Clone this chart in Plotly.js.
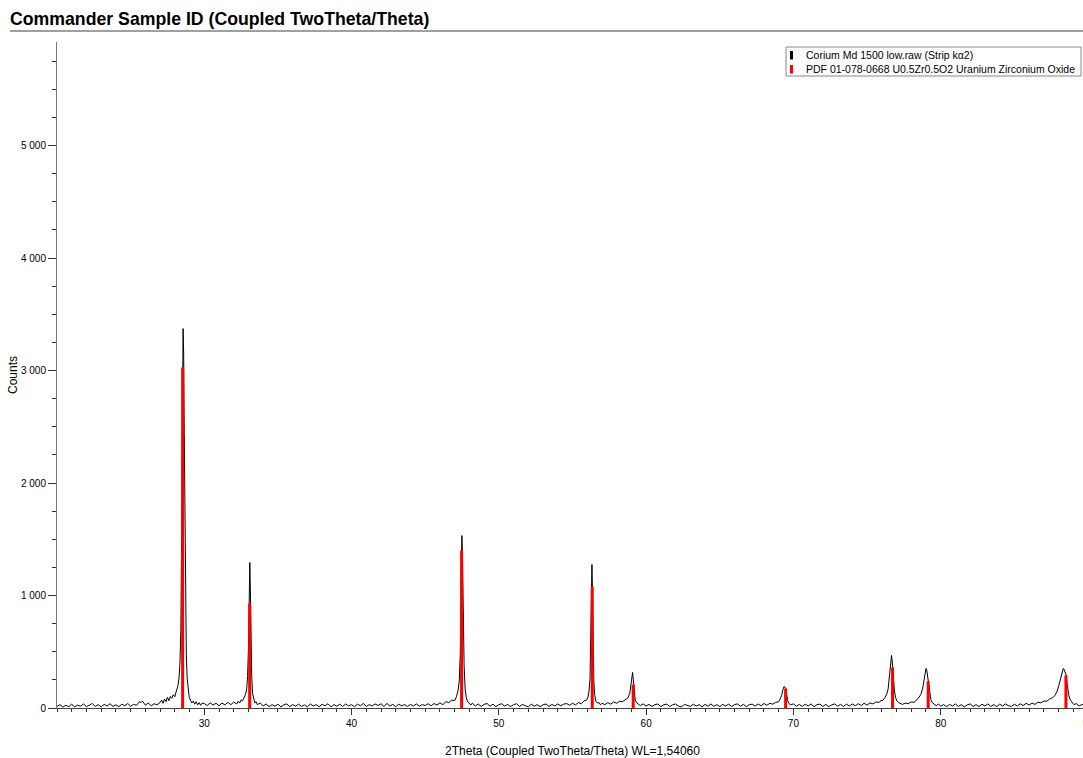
<!DOCTYPE html>
<html>
<head>
<meta charset="utf-8">
<script src="https://cdn.plot.ly/plotly-3.0.1.min.js"></script>
<style>
html,body{margin:0;padding:0;overflow:hidden;background:#fff;}
#chart{width:1088px;height:758px;}
</style>
</head>
<body>
<div id="chart"></div>
<script>
// ---- Data ----
const chartTitle = "Commander Sample ID (Coupled TwoTheta/Theta)";
const xTitle = "2Theta (Coupled TwoTheta/Theta) WL=1,54060";
const yTitle = "Counts";
const legendNames = ["Corium Md 1500 low.raw (Strip k\u03b12)", "PDF 01-078-0668 U0.5Zr0.5O2 Uranium Zirconium Oxide"];
const xTickVals = [30, 40, 50, 60, 70, 80, 90];

// measured scan (2theta, counts)
const twoTheta = [
20.0,20.2,20.4,20.6,20.8,21.0,21.2,21.4,21.6,21.8,
22.0,22.2,22.4,22.6,22.8,23.0,23.2,23.4,23.6,23.8,
24.0,24.2,24.4,24.6,24.8,25.0,25.2,25.4,25.6,25.7,
25.8,26.0,26.2,26.4,26.6,26.8,27.0,27.1,27.2,27.3,
27.4,27.5,27.6,27.7,27.8,27.9,28.0,28.1,28.2,28.28,
28.35,28.41,28.46,28.51,28.56,28.60,28.64,28.68,28.73,28.78,
28.84,28.91,28.98,29.06,29.15,29.25,29.35,29.45,29.55,29.65,
29.75,29.85,30.0,30.2,30.4,30.6,30.8,31.0,31.2,31.4,
31.6,31.8,32.0,32.2,32.3,32.4,32.5,32.6,32.7,32.8,
32.88,32.94,33.0,33.05,33.09,33.13,33.17,33.22,33.28,33.35,
33.43,33.52,33.6,33.8,34.0,34.2,34.4,34.6,34.8,35.0,
35.2,35.4,35.6,35.8,36.0,36.2,36.4,36.6,36.8,37.0,
37.2,37.4,37.6,37.8,38.0,38.2,38.4,38.6,38.8,39.0,
39.2,39.4,39.6,39.8,40.0,40.2,40.4,40.6,40.8,41.0,
41.2,41.4,41.6,41.8,42.0,42.2,42.4,42.6,42.8,43.0,
43.2,43.4,43.6,43.8,44.0,44.2,44.4,44.6,44.8,45.0,
45.2,45.4,45.6,45.8,46.0,46.2,46.4,46.6,46.8,47.0,
47.12,47.22,47.31,47.38,47.44,47.49,47.53,47.58,47.64,47.71,
47.79,47.89,48.0,48.1,48.2,48.4,48.6,48.8,49.0,49.2,
49.4,49.6,49.8,50.0,50.2,50.4,50.6,50.8,51.0,51.2,
51.4,51.6,51.8,52.0,52.2,52.4,52.6,52.8,53.0,53.2,
53.4,53.6,53.8,54.0,54.2,54.4,54.6,54.8,55.0,55.2,
55.4,55.6,55.8,55.95,56.05,56.12,56.19,56.24,56.28,56.32,
56.36,56.40,56.45,56.51,56.59,56.69,56.8,56.9,57.0,57.2,
57.4,57.6,57.8,58.0,58.2,58.4,58.6,58.76,58.89,58.97,
59.03,59.08,59.13,59.18,59.25,59.33,59.45,59.6,59.8,60.0,
60.2,60.4,60.6,60.8,61.0,61.2,61.4,61.6,61.8,62.0,
62.2,62.4,62.6,62.8,63.0,63.2,63.4,63.6,63.8,64.0,
64.2,64.4,64.6,64.8,65.0,65.2,65.4,65.6,65.8,66.0,
66.2,66.4,66.6,66.8,67.0,67.2,67.4,67.6,67.8,68.0,
68.2,68.4,68.6,68.8,69.0,69.1,69.19,69.28,69.36,69.42,
69.48,69.54,69.61,69.7,69.8,70.0,70.2,70.4,70.6,70.8,
71.0,71.2,71.4,71.6,71.8,72.0,72.2,72.4,72.6,72.8,
73.0,73.2,73.4,73.6,73.8,74.0,74.2,74.4,74.6,74.8,
75.0,75.2,75.4,75.6,75.8,75.95,76.08,76.2,76.33,76.43,
76.51,76.58,76.66,76.72,76.78,76.85,76.93,77.03,77.13,77.25,
77.4,77.6,77.8,78.0,78.2,78.35,78.5,78.65,78.77,78.87,
78.95,79.0,79.06,79.12,79.18,79.25,79.33,79.42,79.55,79.7,
79.85,80.0,80.2,80.4,80.6,80.8,81.0,81.2,81.4,81.6,
81.8,82.0,82.2,82.4,82.6,82.8,83.0,83.2,83.4,83.6,
83.8,84.0,84.2,84.4,84.6,84.8,85.0,85.2,85.4,85.6,
85.8,86.0,86.2,86.4,86.6,86.8,87.0,87.2,87.4,87.6,
87.75,87.9,88.02,88.12,88.2,88.27,88.32,88.38,88.44,88.5,
88.56,88.62,88.7,88.8,88.92,89.05,89.2,89.4,89.6,89.8,
90.0
];
const counts = [
14,30,8,24,12,34,10,26,16,36,
12,28,40,14,30,10,32,18,38,14,
28,12,34,20,40,16,32,24,56,48,
62,26,44,20,38,28,50,70,42,80,
56,96,64,104,86,118,100,150,190,260,
400,700,1350,2350,3373,3150,2450,1600,900,480,
260,150,95,70,44,62,34,56,28,48,
24,44,40,22,46,26,42,20,44,28,
50,30,52,36,60,44,72,64,92,120,
170,280,540,920,1293,1050,600,280,130,70,
45,56,30,44,18,36,12,30,16,34,
10,28,36,12,30,16,34,14,28,10,
36,18,30,12,32,20,38,10,30,16,
34,14,36,18,30,12,34,20,40,14,
30,18,36,22,38,14,40,18,32,12,
34,20,30,14,32,18,36,16,30,22,
38,20,40,26,46,30,56,48,70,66,
100,150,240,480,900,1533,1350,800,380,170,
90,55,40,26,44,18,36,14,32,40,
16,34,12,30,38,16,32,12,30,38,
14,32,20,10,34,16,30,12,28,36,
14,32,18,36,20,34,40,24,42,28,
48,38,64,70,95,150,260,560,900,1276,
1000,520,230,110,60,44,48,28,42,30,
48,34,54,42,60,56,74,90,130,190,
270,316,250,150,80,50,40,22,36,18,
32,14,30,36,12,30,34,14,28,36,
16,10,32,20,14,34,18,30,10,32,
16,36,14,30,12,32,18,34,14,30,
36,16,32,12,30,34,16,36,20,40,
24,42,34,50,56,80,110,160,191,185,
175,120,65,40,28,36,16,32,14,34,
18,36,12,30,34,14,32,12,28,36,
16,32,14,34,18,36,20,38,22,42,
26,46,36,54,50,66,70,90,120,170,
260,380,467,400,280,160,95,62,48,40,
32,44,38,54,50,72,90,120,170,250,
320,351,330,280,210,130,75,48,34,20,
36,16,30,12,32,18,36,14,30,10,
28,36,14,30,12,34,18,36,14,30,
12,34,18,36,20,14,34,18,38,22,
42,26,44,32,52,46,62,60,80,92,
110,150,200,260,310,340,351,340,320,300,
240,170,110,70,45,30,40,18,32,14,
28
];

// reference pattern PDF 01-078-0668 (stick positions and heights)
const pdfPos = [28.53, 33.08, 47.47, 56.34, 59.12, 69.47, 76.73, 79.15, 88.50];
const pdfInt = [3027, 929, 1400, 1080, 209, 173, 360, 238, 289];

// ---- build traces ----
const stickX = [], stickY = [];
pdfPos.forEach((p, i) => { stickX.push(p, p, null); stickY.push(0, pdfInt[i], null); });

const traces = [
  {x: twoTheta, y: counts, type: 'scatter', mode: 'lines', name: legendNames[0],
   line: {color: '#000000', width: 1}, hoverinfo: 'x+y'},
  {x: stickX, y: stickY, type: 'scatter', mode: 'lines', name: legendNames[1],
   line: {color: '#ff0000', width: 3}, hoverinfo: 'x+y'}
];

// pixel helpers for decoration layout (plot area 57..1088 x 42..708)
const L = 57, R = 1088, T = 42, B = 708;
const px = v => (v - L) / (R - L);
const py = v => (B - v) / (B - T);

const fontFam = '"Liberation Sans", Arial, sans-serif';

const layout = {
  width: 1088, height: 758,
  margin: {l: L, r: 0, t: T, b: 758 - B},
  paper_bgcolor: '#ffffff', plot_bgcolor: '#ffffff',
  showlegend: false,
  separators: ', ',
  font: {family: fontFam, size: 10, color: '#000'},
  title: {text: '<b>' + chartTitle + '</b>', x: 10 / 1088, xanchor: 'left', xref: 'container',
          y: 1 - 19 / 758, yanchor: 'middle', yref: 'container',
          font: {family: fontFam, size: 17.7, color: '#000'}},
  xaxis: {
    range: [20, 90], tickmode: 'array', tickvals: xTickVals, showgrid: false, zeroline: false,
    showline: true, linecolor: '#444', linewidth: 1,
    ticks: 'outside', ticklen: 6, tickwidth: 1, tickcolor: '#333',
    minor: {dtick: 1, tick0: 0, ticks: 'outside', ticklen: 3, tickcolor: '#333', showgrid: false},
    tickfont: {family: fontFam, size: 10, color: '#000'},
    ticklabeloverflow: 'allow',
    title: {text: xTitle, font: {family: fontFam, size: 12, color: '#000'}, standoff: 22}
  },
  yaxis: {
    range: [0, 5920], dtick: 1000, tick0: 0, showgrid: false, zeroline: false,
    showline: true, linecolor: '#777', linewidth: 1,
    ticks: 'outside', ticklen: 8, tickwidth: 1, tickcolor: '#333',
    minor: {dtick: 250, ticks: 'outside', ticklen: 4, tickcolor: '#333', showgrid: false},
    separatethousands: true,
    tickfont: {family: fontFam, size: 10, color: '#000'},
    title: {text: yTitle, font: {family: fontFam, size: 12, color: '#000'}, standoff: 0}
  },
  shapes: [
    // rule under the title
    {type: 'line', xref: 'paper', yref: 'paper', x0: px(10), x1: px(1088), y0: py(31), y1: py(31),
     line: {color: '#7f7f7f', width: 1.5}},
    // legend box
    {type: 'rect', xref: 'paper', yref: 'paper', x0: px(786), x1: px(1081), y0: py(76), y1: py(47),
     line: {color: '#888', width: 1}, fillcolor: '#ffffff', layer: 'above'},
    {type: 'line', xref: 'paper', yref: 'paper', x0: px(791.5), x1: px(791.5), y0: py(59.5), y1: py(51),
     line: {color: '#000', width: 3}, layer: 'above'},
    {type: 'line', xref: 'paper', yref: 'paper', x0: px(791.5), x1: px(791.5), y0: py(73.5), y1: py(65),
     line: {color: '#ff0000', width: 3}, layer: 'above'}
  ],
  annotations: [
    {xref: 'paper', yref: 'paper', x: px(804), y: py(55), xanchor: 'left', yanchor: 'middle',
     text: legendNames[0], showarrow: false, font: {family: fontFam, size: 10.5, color: '#000'}},
    {xref: 'paper', yref: 'paper', x: px(804), y: py(69), xanchor: 'left', yanchor: 'middle',
     text: legendNames[1], showarrow: false, font: {family: fontFam, size: 10.5, color: '#000'}}
  ]
};

Plotly.newPlot('chart', traces, layout, {displayModeBar: false});
</script>
</body>
</html>
